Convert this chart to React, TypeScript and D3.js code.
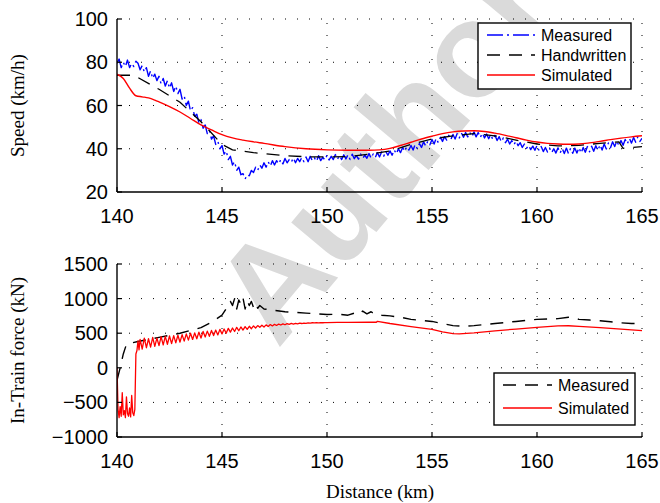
import React from "react"
import * as d3 from "d3"

const W = 660
const H = 503

const distTicks = [140, 145, 150, 155, 160, 165]
const speedTicks = [20, 40, 60, 80, 100]
const forceTicks = [-1000, -500, 0, 500, 1000, 1500]

// measured speed, sampled every 0.1 km from 140 km
const measuredSpeedStart = 140
const measuredSpeedStep = 0.1
const measuredSpeed = [
  79.5, 81.5, 77.5, 80, 78, 81, 77.5, 79.5, 78, 80.5,
  79.5, 76.5, 78.5, 75.5, 77.5, 73.5, 76, 72.5, 74.5, 71.5,
  73.5, 70, 72.5, 69, 71.5, 68, 70.5, 66.5, 69, 65.5,
  67.5, 63, 64.5, 60, 62, 57.5, 59, 55, 56, 52,
  53.5, 49.5, 51, 47, 48.5, 44.5, 46, 42, 43.5, 40,
  41.5, 37.5, 39, 35, 36.5, 32.5, 34, 30, 31.5, 28,
  28.5, 26, 28, 27.5, 30, 29, 31.5, 30, 32.5, 31,
  33.5, 31.5, 34, 32, 34.5, 32.5, 34.5, 33, 35, 33,
  35.5, 33.5, 35, 33.8, 35.8, 33.5, 35.5, 34, 36, 34,
  36.2, 34, 36.5, 34.5, 35.8, 34.2, 36.8, 34.5, 36, 34.8,
  37, 34.8, 36.5, 35, 37.3, 35.2, 36.8, 35, 37.2, 35.3,
  37.2, 35, 37.5, 35.4, 36.8, 35.2, 37.6, 35.5, 37, 35.6,
  37.8, 35.6, 37.6, 36, 38.2, 36.2, 38.5, 36.5, 38.8, 37,
  39, 37, 39.5, 37.6, 40, 38.2, 40.6, 38.8, 41, 39.4,
  41.5, 39.4, 42, 40, 42.4, 40.6, 43.2, 41.2, 43.5, 41.8,
  44.3, 42.2, 44.8, 42.8, 45.3, 43.4, 45.6, 44, 46.2, 44.3,
  46.6, 44.5, 47, 45, 47.3, 45.3, 47.5, 45.5, 47.6, 45.6,
  47.8, 45.5, 47.5, 45.2, 47.2, 45, 46.8, 44.6, 46.5, 44.2,
  46.2, 43.8, 45.6, 43.2, 45, 42.8, 44.4, 42.2, 43.8, 41.8,
  43.5, 41.4, 42.8, 40.6, 42.2, 40.2, 41.6, 39.6, 41.2, 39.3,
  41.5, 39.1, 41, 38.7, 40.6, 38.5, 40.3, 38.2, 40, 38,
  40.4, 38, 40.2, 37.8, 40.3, 37.7, 40.2, 37.9, 40.3, 38,
  40.5, 38, 40.6, 38.4, 41, 38.6, 41.2, 38.8, 41.4, 39.2,
  41.8, 39.4, 42.2, 39.9, 42.7, 40.5, 43.2, 41, 43.6, 41.4,
  43.8, 41.6, 44.3, 42.2, 44.8, 42.6, 45.2, 43, 45.5, 43.4,
  44.8,
]

const handwrittenKm = [140, 140.8, 142, 143, 144, 145, 145.5, 146.5, 148, 149, 150, 151, 152, 153, 154, 155, 156, 157, 158, 159, 160, 161, 162, 163, 163.9, 164.1, 165]
const handwrittenSpeed = [74, 74, 67.5, 61.5, 52.5, 42, 39.5, 38.2, 36.8, 36.3, 36.2, 36.4, 37.5, 39, 42, 44.5, 46, 47, 46, 44, 42.2, 41.3, 41.6, 42.5, 43.2, 40.2, 41]

const simSpeedKm = [140, 140.3, 140.6, 140.9, 141.2, 141.5, 141.8, 142, 142.5, 143, 143.5, 144, 144.5, 145, 145.5, 146, 146.5, 147, 148, 149, 150, 151, 152, 152.5, 153, 153.5, 154, 154.5, 155, 155.5, 156, 156.5, 157, 157.5, 158, 158.5, 159, 159.5, 160, 160.5, 161, 161.5, 162, 162.5, 163, 163.5, 164, 164.5, 165]
const simSpeed = [74.5, 72.5, 68, 64.5, 64, 63.5, 62.5, 61.7, 59.5, 57, 54, 51, 48.7, 46.5, 45, 44, 43.2, 42.5, 41, 40, 39.5, 39.3, 39.3, 39.5, 40.2, 41.5, 43, 44.5, 45.8, 47, 47.8, 48.2, 48.3, 48, 47.2, 46.2, 45.1, 44, 43.1, 42.5, 42.2, 42.1, 42.2, 42.7, 43.4, 44.2, 44.9, 45.5, 46]

const measuredForceKm = [140, 140.15, 140.3, 140.45, 140.7, 141, 142, 143, 144, 144.5, 145, 145.3, 145.4, 145.5, 145.6, 145.7, 145.8, 145.9, 146, 146.1, 146.2, 146.3, 146.4, 146.5, 146.6, 146.7, 146.8, 147, 147.5, 148, 148.5, 149, 149.5, 150, 150.5, 151, 151.3, 151.5, 151.7, 151.9, 152.1, 152.3, 152.6, 153, 153.5, 154, 154.5, 155, 155.5, 156, 156.5, 157, 157.5, 158, 158.5, 159, 159.5, 160, 160.5, 161, 161.5, 161.8, 162, 162.5, 163, 163.5, 164, 164.5, 165]
const measuredForce = [-180, 0, 200, 340, 360, 380, 440, 500, 580, 660, 760, 900, 960, 900, 1000, 850, 980, 920, 1010, 850, 970, 900, 960, 870, 930, 860, 900, 850, 830, 810, 800, 790, 780, 770, 775, 760, 790, 770, 820, 780, 810, 770, 760, 750, 730, 700, 685, 670, 640, 610, 600, 610, 625, 640, 655, 670, 685, 700, 705, 710, 730, 720, 700, 690, 680, 665, 650, 640, 640]

// simulated force: braking part every 0.05 km, then oscillating part every 0.1 km, then tail
const simForceEarlyStart = 140
const simForceEarlyStep = 0.05
const simForceEarly = [0, -600, -720, -560, -700, -360, -680, -620, -720, -420, -660, -700, -580, -710, -400, -650, -690, -600, 200, 250, 390, 260]
const simForceSawStart = 141.1
const simForceSawStep = 0.1
const simForceSaw = [
  410, 270, 430, 290, 420, 300, 440, 310, 430,
  320, 450, 330, 455, 340, 460, 350, 465, 360, 470,
  370, 480, 385, 490, 400, 500, 410, 505, 420, 515,
  430, 525, 445, 530, 455, 540, 465, 545, 475, 555,
  490, 560, 500, 570, 515, 575, 525, 585, 535, 590,
  545, 595, 555, 600, 565, 605, 575, 610, 585, 615,
  590, 620, 598, 625, 605, 628, 612, 632, 618, 635,
  622, 638, 627, 641, 632, 643, 636, 645, 640, 647,
  643, 649, 646, 651, 648, 652, 650, 653, 651, 654,
  654,
]
const simForceTailKm = [150.5, 151, 152, 152.35, 152.4, 153, 154, 155, 155.5, 156, 156.3, 157, 158, 159, 160, 161, 161.5, 162, 163, 164, 165]
const simForceTail = [655, 656, 658, 658, 672, 640, 595, 555, 520, 495, 490, 505, 535, 560, 585, 605, 608, 600, 580, 558, 536]

const sans = "'Liberation Sans', Arial, Helvetica, sans-serif"
const serif = "'Liberation Serif', 'Times New Roman', serif"

const x = d3.scaleLinear().domain([140, 165]).range([117, 642])
const ySpeed = d3.scaleLinear().domain([20, 100]).range([192, 19])
const yForce = d3.scaleLinear().domain([-1000, 1500]).range([437, 264])

type Pt = [number, number]
const zip = (a: number[], b: number[]): Pt[] => a.map((k, i) => [k, b[i]])
const sampled = (start: number, step: number, v: number[]): Pt[] =>
  v.map((d, i) => [start + i * step, d])

const speedMeasPts = sampled(measuredSpeedStart, measuredSpeedStep, measuredSpeed)
const speedHandPts = zip(handwrittenKm, handwrittenSpeed)
const speedSimPts = zip(simSpeedKm, simSpeed)
const forceMeasPts = zip(measuredForceKm, measuredForce)
const forceSimPts = [
  ...sampled(simForceEarlyStart, simForceEarlyStep, simForceEarly),
  ...sampled(simForceSawStart, simForceSawStep, simForceSaw),
  ...zip(simForceTailKm, simForceTail),
]

type Series = { pts: Pt[]; color: string; dash?: string; width: number; smooth?: boolean; label: string }

function Panel({ id, y, ticks, title, series, legend }: {
  id: string
  y: d3.ScaleLinear<number, number>
  ticks: number[]
  title: string
  series: Series[]
  legend: { x: number; y: number; w: number; rowH: number; sampleW: number }
}) {
  const [x0, x1] = x.range()
  const [yb, yt] = y.range()
  const fmt = d3.format("")
  return (
    <g>
      <defs>
        <clipPath id={id}>
          <rect x={x0} y={yt - 2} width={x1 - x0} height={yb - yt + 4} />
        </clipPath>
      </defs>
      {/* grid */}
      {distTicks.slice(1).map((t) => (
        <line key={"gx" + t} x1={x(t)} x2={x(t)} y1={yb} y2={yt} stroke="#000" strokeWidth={1} strokeDasharray="1,11" />
      ))}
      {ticks.slice(1).map((t) => (
        <line key={"gy" + t} x1={x0} x2={x1} y1={y(t)} y2={y(t)} stroke="#000" strokeWidth={1} strokeDasharray="1,11" />
      ))}
      {/* data */}
      <g clipPath={`url(#${id})`}>
        {series.map((s) => {
          const line = d3.line<Pt>().x((d) => x(d[0])).y((d) => y(d[1]))
          if (s.smooth) line.curve(d3.curveMonotoneX)
          return (
            <path key={s.label} d={line(s.pts) || ""} fill="none" stroke={s.color}
              strokeWidth={s.width} strokeDasharray={s.dash} strokeLinejoin="round" />
          )
        })}
      </g>
      {/* axes */}
      <line x1={x0} x2={x0} y1={yt} y2={yb} stroke="#000" strokeWidth={1.4} />
      <line x1={x0} x2={x1} y1={yb} y2={yb} stroke="#000" strokeWidth={1.4} />
      {distTicks.map((t) => (
        <g key={"tx" + t}>
          <line x1={x(t)} x2={x(t)} y1={yb} y2={yb - 5} stroke="#000" strokeWidth={1.2} />
          <text x={x(t)} y={yb + 31} textAnchor="middle" fontFamily={sans} fontSize={20}>{t}</text>
        </g>
      ))}
      {ticks.map((t) => (
        <g key={"ty" + t}>
          <line x1={x0} x2={x0 + 5} y1={y(t)} y2={y(t)} stroke="#000" strokeWidth={1.2} />
          <text x={x0 - 9} y={y(t) + 7} textAnchor="end" fontFamily={sans} fontSize={20}>
            {t < 0 ? "\u2212" + fmt(-t) : fmt(t)}
          </text>
        </g>
      ))}
      <text transform={`translate(${24},${(yt + yb) / 2}) rotate(-90)`} textAnchor="middle"
        fontFamily={serif} fontSize={19}>{title}</text>
      {/* legend */}
      <rect x={legend.x} y={legend.y} width={legend.w} height={legend.rowH * series.length + 6}
        fill="#fff" stroke="#000" strokeWidth={1.4} />
      {series.map((s, i) => {
        const cy = legend.y + 12 + i * legend.rowH
        return (
          <g key={"lg" + s.label}>
            <line x1={legend.x + 9} x2={legend.x + 9 + legend.sampleW} y1={cy} y2={cy}
              stroke={s.color} strokeWidth={s.width} strokeDasharray={s.dash} />
            <text x={legend.x + 15 + legend.sampleW} y={cy + 6} fontFamily={sans} fontSize={16}>{s.label}</text>
          </g>
        )
      })}
    </g>
  )
}

export default function App() {
  const speedSeries: Series[] = [
    { pts: speedMeasPts, color: "#0000ff", dash: "16,4,2,4", width: 1.4, label: "Measured" },
    { pts: speedHandPts, color: "#000", dash: "13,9", width: 1.3, label: "Handwritten" },
    { pts: speedSimPts, color: "#ff0000", width: 1.4, smooth: true, label: "Simulated" },
  ]
  const forceSeries: Series[] = [
    { pts: forceMeasPts, color: "#000", dash: "13,9", width: 1.4, label: "Measured" },
    { pts: forceSimPts, color: "#ff0000", width: 1.3, label: "Simulated" },
  ]
  return (
    <svg width={W} height={H} style={{ position: "absolute", left: 0, top: 0, background: "#fff" }}>
      <rect width={W} height={H} fill="#fff" />
      <text transform="translate(420,180) rotate(-50)" textAnchor="middle" fontFamily={sans}
        fontWeight="bold" fontSize={135} fill="#dadada">Author</text>
      <Panel id="clipSpeed" y={ySpeed} ticks={speedTicks} title="Speed (km/h)" series={speedSeries}
        legend={{ x: 478, y: 23, w: 153, rowH: 20, sampleW: 48 }} />
      <Panel id="clipForce" y={yForce} ticks={forceTicks} title="In-Train force (kN)" series={forceSeries}
        legend={{ x: 494, y: 373, w: 141, rowH: 23, sampleW: 49 }} />
      <text x={380} y={498} textAnchor="middle" fontFamily={serif} fontSize={19}>Distance (km)</text>
    </svg>
  )
}
